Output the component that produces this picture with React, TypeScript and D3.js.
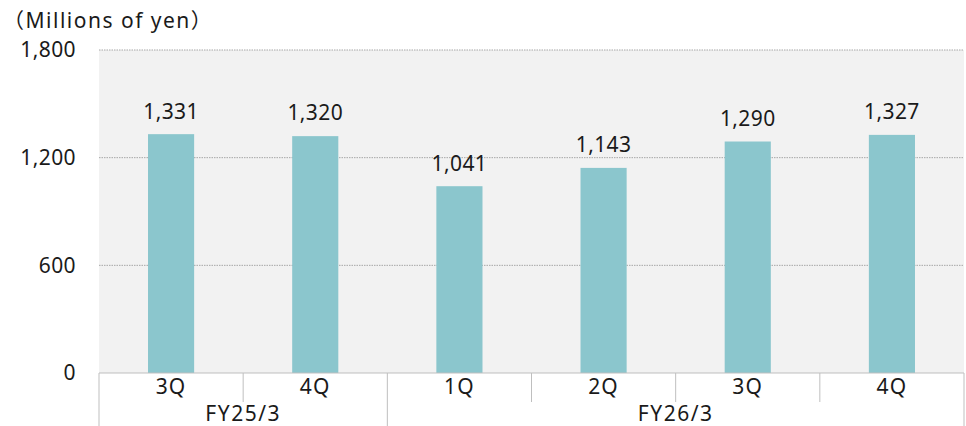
import React from "react";
import * as d3 from "d3";

const quarters = ["3Q", "4Q", "1Q", "2Q", "3Q", "4Q"];
const years = ["FY25/3", "FY25/3", "FY26/3", "FY26/3", "FY26/3", "FY26/3"];
const yearGroups = ["FY25/3", "FY26/3"];
const values = [1331, 1320, 1041, 1143, 1290, 1327];
const yTicks = [0, 600, 1200, 1800];
const unitLabel = "（Millions of yen）";

const W = 966;
const H = 426;
const M = { left: 99, right: 2, top: 50, bottom: 53 };
const FONT = "'Noto Sans', 'Noto Sans CJK JP', sans-serif";
const FS = 21;

export default function App() {
  const idx = values.map((_, i) => String(i));
  const x = d3
    .scaleBand<string>()
    .domain(idx)
    .range([M.left, W - M.right])
    .paddingInner(0)
    .paddingOuter(0);
  const y = d3.scaleLinear().domain([0, 1800]).range([H - M.bottom, M.top]);
  const bw = x.bandwidth();
  const barW = bw * 0.32;
  const y0 = y(0);
  const fmt = d3.format(",");

  const groupRanges = yearGroups.map((g) => {
    const ids = years.map((yy, i) => (yy === g ? i : -1)).filter((i) => i >= 0);
    const x0 = x(String(ids[0]))!;
    const x1 = x(String(ids[ids.length - 1]))! + bw;
    return { g, x0, x1 };
  });

  const num = { fontSize: FS, fill: "#1a1a1a", letterSpacing: 0.4 } as const;
  const word = { fontSize: FS, fill: "#1a1a1a", letterSpacing: 1.5 } as const;

  return (
    <svg
      width={W}
      height={H}
      style={{ position: "absolute", left: 0, top: 0, fontFamily: FONT }}
    >
      <rect x={M.left} y={M.top} width={W - M.left - M.right} height={y0 - M.top} fill="#f2f2f2" />
      {yTicks.filter((t) => t > 0).map((t) => (
        <line
          key={t}
          x1={M.left}
          x2={W - M.right}
          y1={y(t)}
          y2={y(t)}
          stroke="#a6a6a6"
          strokeWidth={1}
          strokeDasharray="1.5 1"
        />
      ))}
      {yTicks.map((t) => (
        <text key={"l" + t} x={76} y={y(t)} dy="0.35em" textAnchor="end" {...num}>
          {fmt(t)}
        </text>
      ))}
      <text x={3} y={21} dy="0.35em" {...word}>
        {unitLabel}
      </text>
      {values.map((v, i) => {
        const cx = x(String(i))! + bw / 2;
        return (
          <g key={i}>
            <rect x={cx - barW / 2} y={y(v)} width={barW} height={y0 - y(v)} fill="#8bc6cd" />
            <text x={cx} y={y(v) - 23} dy="0.35em" textAnchor="middle" {...num}>
              {fmt(v)}
            </text>
            <text x={cx} y={y0 + 14} dy="0.35em" textAnchor="middle" {...num} letterSpacing={1.2}>
              {quarters[i]}
            </text>
          </g>
        );
      })}
      <line x1={M.left} x2={W - M.right} y1={y0} y2={y0} stroke="#bfbfbf" strokeWidth={1} />
      {idx.map((k, i) => {
        const xx = x(k)!;
        const isGroupStart = i === 0 || years[i] !== years[i - 1];
        return (
          <line
            key={"s" + i}
            x1={xx}
            x2={xx}
            y1={y0}
            y2={isGroupStart ? H : y0 + 29}
            stroke="#bfbfbf"
            strokeWidth={1}
          />
        );
      })}
      <line x1={W - M.right} x2={W - M.right} y1={y0} y2={H} stroke="#bfbfbf" strokeWidth={1} />
      {groupRanges.map((r) => (
        <text
          key={r.g}
          x={(r.x0 + r.x1) / 2}
          y={y0 + 41}
          dy="0.35em"
          textAnchor="middle"
          {...word}
        >
          {r.g}
        </text>
      ))}
    </svg>
  );
}
